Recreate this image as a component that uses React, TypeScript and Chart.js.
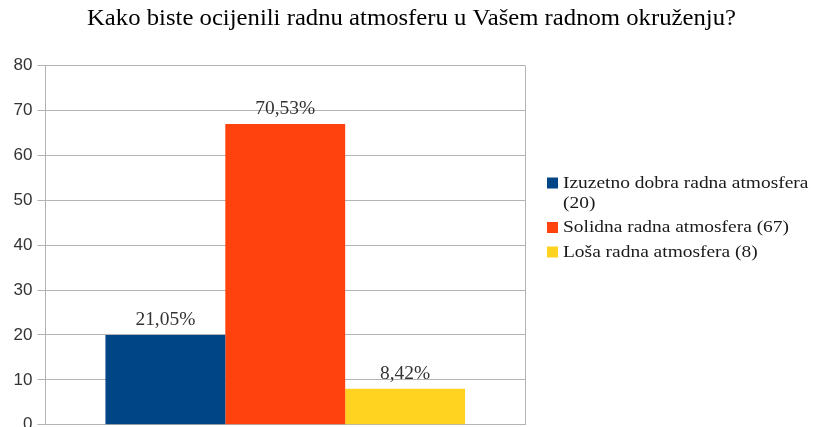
import React, { useEffect, useRef } from 'react';
import { Chart, registerables } from 'chart.js';

Chart.register(...registerables);

const chartTitle = 'Kako biste ocijenili radnu atmosferu u Vašem radnom okruženju?';
const categories = [''];
const seriesNames = [
  'Izuzetno dobra radna atmosfera (20)',
  'Solidna radna atmosfera (67)',
  'Loša radna atmosfera (8)',
];
const legendLines = [
  ['Izuzetno dobra radna atmosfera', '(20)'],
  ['Solidna radna atmosfera (67)'],
  ['Loša radna atmosfera (8)'],
];
const seriesValues = [20, 67, 8];
const percentLabels = ['21,05%', '70,53%', '8,42%'];
const seriesColors = ['#004586', '#ff420e', '#ffd320'];
const yMin = 0;
const yMax = 80;
const yStep = 10;

const SERIF = '"Liberation Serif", "Times New Roman", serif';
const SANS = '"Liberation Sans", Arial, sans-serif';

// draws text with a slight horizontal stretch, as in the original rendering
function stretchedText(ctx: any, text: string, x: number, y: number, sx: number, align: string) {
  ctx.save();
  ctx.translate(x, y);
  ctx.scale(sx, 1);
  ctx.textAlign = align;
  ctx.fillText(text, 0, 0);
  ctx.restore();
}

const titlePlugin = {
  id: 'stretchedTitle',
  afterDraw(chart: any) {
    const ctx = chart.ctx;
    ctx.save();
    ctx.font = `22.5px ${SERIF}`;
    ctx.fillStyle = '#000000';
    ctx.textBaseline = 'alphabetic';
    stretchedText(ctx, chartTitle, chart.width / 2 + 5, 25, 1.098, 'center');
    ctx.restore();
  },
};

const valueLabelPlugin = {
  id: 'valueLabels',
  afterDatasetsDraw(chart: any) {
    const ctx = chart.ctx;
    ctx.save();
    ctx.font = `18px ${SERIF}`;
    ctx.fillStyle = '#333333';
    ctx.textBaseline = 'alphabetic';
    chart.data.datasets.forEach((ds: any, i: number) => {
      const meta = chart.getDatasetMeta(i);
      meta.data.forEach((bar: any) => {
        stretchedText(ctx, percentLabels[i], bar.x, bar.y - 10, 1.08, 'center');
      });
    });
    ctx.restore();
  },
};

const sideLegendPlugin = {
  id: 'sideLegend',
  afterDraw(chart: any) {
    const ctx = chart.ctx;
    ctx.save();
    ctx.font = `17.5px ${SERIF}`;
    ctx.textBaseline = 'middle';
    const boxX = 547;
    const textX = 563;
    const box = 11;
    const lineH = 20;
    const itemGap = 24.5;
    let y = 183;
    legendLines.forEach((lines, i) => {
      ctx.fillStyle = seriesColors[i];
      ctx.fillRect(boxX, y - box / 2, box, box);
      ctx.fillStyle = '#1a1a1a';
      lines.forEach((line, j) => {
        stretchedText(ctx, line, textX, y + j * lineH, 1.11, 'left');
      });
      y += (lines.length - 1) * lineH + itemGap;
    });
    ctx.restore();
  },
};

export default function App() {
  const canvasRef = useRef<HTMLCanvasElement | null>(null);

  useEffect(() => {
    const canvas = canvasRef.current;
    if (!canvas) return;
    const chart = new Chart(canvas, {
      type: 'bar',
      data: {
        labels: categories,
        datasets: seriesNames.map((name, i) => ({
          label: name,
          data: [seriesValues[i]],
          backgroundColor: seriesColors[i],
          borderWidth: 0,
          categoryPercentage: 0.75,
          barPercentage: 1.0,
        })),
      },
      options: {
        responsive: false,
        animation: false,
        events: [],
        layout: {
          padding: { left: 0, right: 288, top: 65.5, bottom: 15 },
        },
        plugins: {
          legend: { display: false },
          tooltip: { enabled: false },
          title: { display: false },
        },
        scales: {
          x: {
            offset: true,
            grid: {
              display: true,
              offset: true,
              color: '#b3b3b3',
              drawTicks: false,
              lineWidth: 1,
            },
            border: { display: true, color: '#b3b3b3' },
            ticks: { display: false },
          },
          y: {
            min: yMin,
            max: yMax,
            afterFit(scale: any) {
              scale.width = 45.5;
            },
            ticks: {
              stepSize: yStep,
              color: '#333333',
              font: { family: SANS, size: 17 },
              padding: 5,
            },
            grid: {
              color: '#b3b3b3',
              tickLength: 8,
              lineWidth: 1,
            },
            border: { display: true, color: '#b3b3b3' },
          },
        },
      },
      plugins: [titlePlugin, valueLabelPlugin, sideLegendPlugin],
    });
    return () => chart.destroy();
  }, []);

  return (
    <div
      style={{
        position: 'absolute',
        left: 0,
        top: 0,
        width: 813,
        height: 427,
        overflow: 'hidden',
        background: '#ffffff',
      }}
    >
      <canvas ref={canvasRef} width={813} height={440} style={{ display: 'block' }} />
    </div>
  );
}
